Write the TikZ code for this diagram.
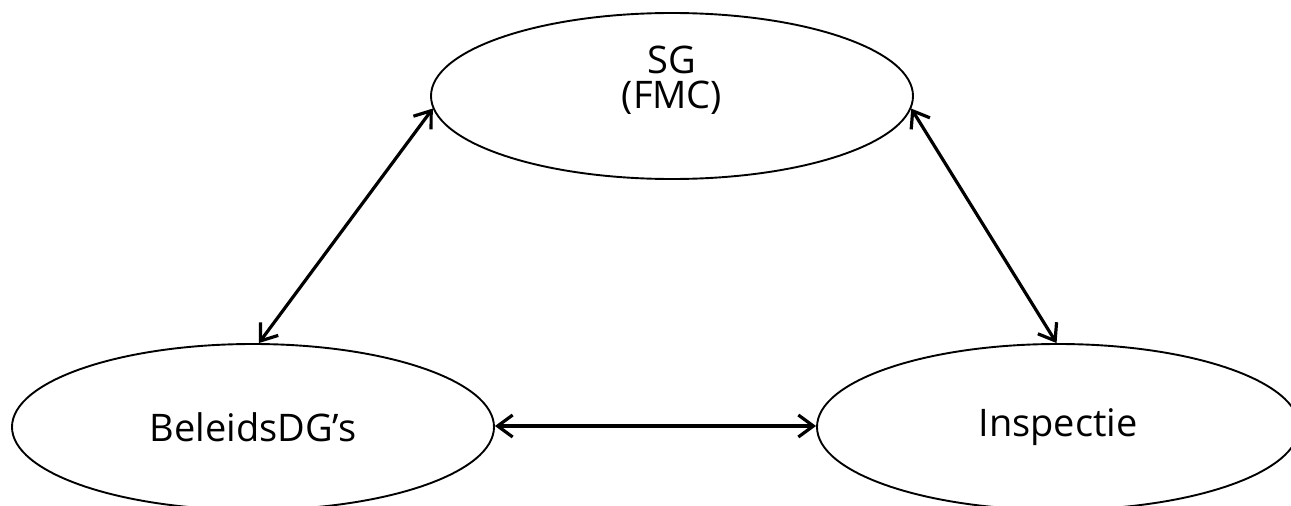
\documentclass[tikz,border=0pt]{standalone}
\usepackage{fontspec}
\setmainfont{Open Sans}
\usetikzlibrary{shapes.geometric,arrows.meta}
\begin{document}
\begin{tikzpicture}[x=1pt,y=-1pt,
  blob/.style={ellipse,draw,line width=1.9pt,minimum width=482pt,minimum height=166pt,inner sep=0pt,font=\fontsize{38}{35}\selectfont},
  lbl/.style={font=\fontsize{38}{35}\selectfont,align=center,inner sep=0pt},
  link/.style={line width=3.2pt,{Straight Barb[length=15pt,width=22pt]}-{Straight Barb[length=15pt,width=22pt]}}]
\useasboundingbox (0,0) rectangle (1291,506);
\begin{scope}
\clip (0,0) rectangle (1291,506);
\node[blob] (sg) at (672,96) {};
\node[lbl] (sgtext) at (672,80) {SG\\(FMC)};
\node[blob] (bel) at (253,427) {BeleidsDG’s};
\node[blob] (ins) at (1058,427) {Inspectie};
\end{scope}
\draw[link] (bel.86) -- (sg.183);
\draw[link] (ins.91) -- (sg.357);
\draw[link] ([yshift=1pt]bel.east) -- ([yshift=1pt]ins.west);
\end{tikzpicture}
\end{document}
